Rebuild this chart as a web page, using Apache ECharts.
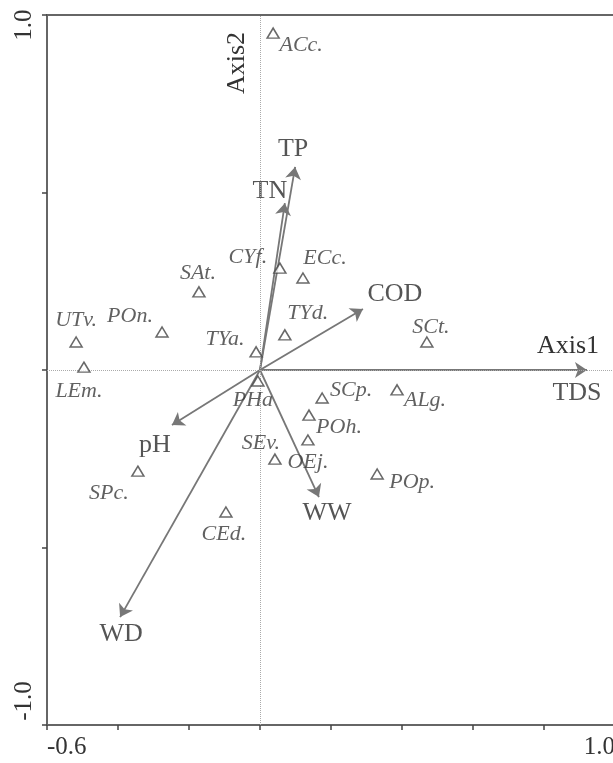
<!DOCTYPE html>
<html><head><meta charset="utf-8">
<script src="https://cdn.jsdelivr.net/npm/echarts@6/dist/echarts.min.js"></script>
<style>html,body{margin:0;padding:0;background:#fff}#c{width:613px;height:763px}</style>
</head><body><div id="c"></div>
<script>
// ---- data ----
const speciesNames = ['ACc.','SAt.','UTv.','POn.','LEm.','TYa.','PHa','CYf.','ECc.','TYd.','SCt.','SCp.','ALg.','POh.','OEj.','SEv.','POp.','SPc.','CEd.'];
const speciesX = [0.037,-0.172,-0.518,-0.276,-0.496,-0.011,-0.006,0.056,0.121,0.070,0.470,0.175,0.386,0.138,0.135,0.042,0.330,-0.344,-0.096];
const speciesY = [0.949,0.220,0.079,0.107,0.008,0.051,-0.031,0.287,0.259,0.099,0.079,-0.079,-0.056,-0.127,-0.197,-0.251,-0.293,-0.285,-0.400];
const envNames = ['TP','TN','COD','TDS','pH','WD','WW'];
const envX = [0.099,0.070,0.290,0.921,-0.248,-0.394,0.166];
const envY = [0.572,0.470,0.172,0.000,-0.155,-0.696,-0.358];
const xTickLabels = ['-0.6','1.0'];
const yTickLabels = ['1.0','-1.0'];
const axisNames = ['Axis1','Axis2'];

// ---- label placement (pixels, style only) ----
const speciesLabelOffset = {
  'ACc.':[28,12],'SAt.':[-1,-19],'UTv.':[0,-22],'POn.':[-32,-16],'LEm.':[-5,24],'TYa.':[-31,-13],
  'PHa':[-5,19],'CYf.':[-32,-11],'ECc.':[22,-20],'TYd.':[23,-22],'SCt.':[4,-15],'SCp.':[29,-8],
  'ALg.':[28,10],'POh.':[30,12],'OEj.':[0,22],'SEv.':[-14,-16],'POp.':[35,8],'SPc.':[-29,22],'CEd.':[-2,22]
};
const envLabelOffset = {'TP':[-2,-18],'TN':[-15,-12],'COD':[32,-15],'TDS':[-10,23],'pH':[-17,20],'WD':[1,17],'WW':[8,16]};

const FONT = '"Liberation Serif","Times New Roman",serif';
const chart = echarts.init(document.getElementById('c'));

const option = {
  animation: false,
  grid: {left:47, width:568, top:15, height:710, show:true, borderColor:'#666', borderWidth:2,
         outerBoundsMode:'none', containLabel:false},
  xAxis: {
    type:'value', min:-0.6, max:1.0, interval:0.2,
    axisLine:{onZero:false, lineStyle:{color:'#666', width:2}},
    axisTick:{show:true, length:5, lineStyle:{color:'#444', width:1.5}},
    splitLine:{show:false},
    axisLabel:{margin:10, fontFamily:FONT, fontSize:25, color:'#333', alignMinLabel:'left', alignMaxLabel:'right',
      formatter: v => { const s = (Math.abs(v) < 1e-9 ? 0 : v).toFixed(1); return xTickLabels.includes(s) ? s : ''; }}
  },
  yAxis: {
    type:'value', min:-1, max:1, interval:0.5,
    axisLine:{onZero:false, lineStyle:{color:'#666', width:2}},
    axisTick:{show:true, length:5, lineStyle:{color:'#444', width:1.5}},
    splitLine:{show:false},
    axisLabel:{show:false}
  },
  series: [
    {
      type:'lines', coordinateSystem:'cartesian2d', z:3,
      symbol:['none','arrow'], symbolSize:12,
      lineStyle:{color:'#777', width:1.8, opacity:1},
      data: envNames.map((n,i)=>({name:n, coords:[[0,0],[envX[i],envY[i]]]}))
    },
    {
      type:'scatter', symbolSize:0, z:4,
      label:{show:true, position:'inside', formatter:'{b}', fontFamily:FONT, fontSize:26, color:'#2a2a2a', align:'center', verticalAlign:'middle'},
      data: envNames.map((n,i)=>({name:n, value:[envX[i],envY[i]], label:{offset:envLabelOffset[n]}}))
    },
    {
      type:'scatter', symbol:'triangle', symbolSize:[12,10], z:5,
      itemStyle:{color:'#fff', borderColor:'#444', borderWidth:1.5},
      label:{show:true, position:'inside', formatter:'{b}', fontFamily:FONT, fontStyle:'italic', fontSize:22, color:'#3a3a3a', align:'center', verticalAlign:'middle'},
      data: speciesNames.map((n,i)=>({name:n, value:[speciesX[i],speciesY[i]], label:{offset:speciesLabelOffset[n]}})),
      markLine:{
        silent:true, symbol:'none', label:{show:false},
        lineStyle:{color:'#aaa', type:'dotted', width:1},
        data:[{xAxis:0},{yAxis:0}]
      }
    }
  ]
};
chart.setOption(option);

const px = (x,y) => chart.convertToPixel({gridIndex:0}, [x,y]);
const elements = [];
yTickLabels.forEach(s => {
  const v = parseFloat(s);
  const p = px(-0.6, v);
  elements.push({type:'text', x:p[0]-23, y:p[1] + (v > 0 ? 10 : -24), rotation:Math.PI/2,
    style:{text:s, fontFamily:FONT, fontSize:25, fill:'#333', align:'center', verticalAlign:'middle'}});
});
const pA1 = px(1.0, 0);
elements.push({type:'text', x:pA1[0]-47, y:pA1[1]-24,
  style:{text:axisNames[0], fontFamily:FONT, fontSize:26, fill:'#333', align:'center', verticalAlign:'middle'}});
const pA2 = px(0, 1.0);
elements.push({type:'text', x:pA2[0]-23, y:pA2[1]+48, rotation:Math.PI/2,
  style:{text:axisNames[1], fontFamily:FONT, fontSize:26, fill:'#333', align:'center', verticalAlign:'middle'}});
chart.setOption({graphic:{elements}});
</script>
</body></html>
